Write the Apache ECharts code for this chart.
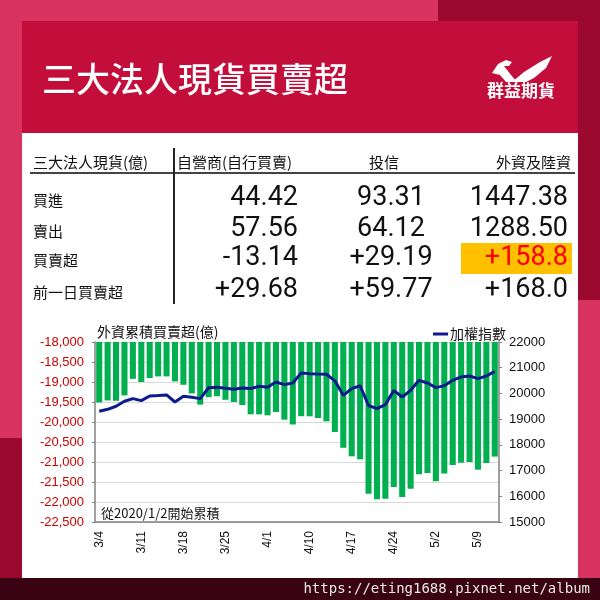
<!DOCTYPE html>
<html>
<head>
<meta charset="utf-8">
<script src="https://cdn.jsdelivr.net/npm/echarts@6/dist/echarts.min.js"></script>
<style>
html,body{margin:0;padding:0;background:#fff;}
#c{width:600px;height:600px;}
</style>
</head>
<body>
<div id="c"></div>
<script>
// ---- data ----
const categories = ['3/4','3/5','3/6','3/7','3/8','3/11','3/12','3/13','3/14','3/15',
  '3/18','3/19','3/20','3/21','3/22','3/25','3/26','3/27','3/28','3/29',
  '4/1','4/2','4/3','4/8','4/9','4/10','4/11','4/12','4/15','4/16',
  '4/17','4/18','4/19','4/22','4/23','4/24','4/25','4/26','4/29','4/30',
  '5/2','5/3','5/6','5/7','5/8','5/9','5/10','5/13'];
const foreignCum = [-19510,-19460,-19470,-19335,-18920,-19000,-18900,-18860,-18860,-18985,
  -19070,-19285,-19565,-19380,-19355,-19445,-19500,-19575,-19808,-19808,
  -19833,-19750,-19942,-20062,-19855,-19858,-19900,-19983,-20250,-20645,
  -20858,-20933,-21795,-21933,-21917,-21625,-21875,-21667,-21308,-21275,
  -21483,-21290,-21075,-21017,-21000,-21192,-21025,-20865];
const taiex = [19305,19383,19500,19694,19798,19720,19900,19915,19940,19667,
  19888,19850,19798,20220,20240,20200,20160,20214,20188,20277,
  20238,20444,20343,20405,20794,20770,20755,20744,20490,19927,
  20188,20300,19530,19410,19565,20115,19861,20121,20510,20405,
  20227,20304,20510,20640,20678,20577,20678,20860];

const titleText = '三大法人現貨買賣超';
const brandText = '群益期貨';
const tableHeaders = ['三大法人現貨(億)','自營商(自行買賣)','投信','外資及陸資'];
const rowLabels = ['買進','賣出','買賣超','前一日買賣超'];
const dealerVals = ['44.42','57.56','-13.14','+29.68'];
const trustVals = ['93.31','64.12','+29.19','+59.77'];
const foreignVals = ['1447.38','1288.50','+158.8','+168.0'];
const chartTitle = '外資累積買賣超(億)';
const seriesBarName = '外資累積買賣超';
const seriesLineName = '加權指數';
const noteText = '從2020/1/2開始累積';
const urlText = 'https://eting1688.pixnet.net/album';

// ---- styles ----
const CJK = "'Noto Sans CJK TC','Noto Sans CJK SC',sans-serif";
const NUM = "Roboto,'Noto Sans CJK TC',sans-serif";
const AX = "'Liberation Sans Narrow','Liberation Sans','Noto Sans CJK TC',sans-serif";

const g = [];
// backgrounds
g.push({type:'rect', z:0, shape:{x:0,y:0,width:600,height:600}, style:{fill:'#D93461'}});
g.push({type:'rect', z:0, shape:{x:438,y:0,width:162,height:300}, style:{fill:'#9B0A2E'}});
g.push({type:'rect', z:0, shape:{x:0,y:438,width:22,height:140}, style:{fill:'#9B0A2E'}});
g.push({type:'rect', z:0, shape:{x:0,y:578,width:600,height:22}, style:{fill:'#3A0313'}});
g.push({type:'rect', z:0, shape:{x:22,y:21,width:556,height:112}, style:{fill:'#C30D3A'}});
g.push({type:'rect', z:0, shape:{x:22,y:133,width:556,height:445}, style:{fill:'#FFFFFF'}});
// title
g.push({type:'text', z:5, style:{text:titleText, x:42, y:79, fill:'#fff', font:"500 34px "+CJK, textAlign:'left', textVerticalAlign:'middle'}});
// logo
g.push({type:'polygon', z:5, shape:{points:[[492,73],[498,64],[506,60],[512,62],[509,66],[504,66],[511,75],[517,82],[506,82],[500,75]]}, style:{fill:'#fff'}});
g.push({type:'polygon', z:5, shape:{points:[[512,82],[524,72],[540,62],[552,56],[546,68],[534,78],[526,82]]}, style:{fill:'#fff'}});
g.push({type:'text', z:5, style:{text:brandText, x:521, y:91, fill:'#fff', font:"bold 17px "+CJK, textAlign:'center', textVerticalAlign:'middle'}});
// table
g.push({type:'text', z:5, style:{text:tableHeaders[0], x:33, y:162, fill:'#111', font:"15px "+CJK, textAlign:'left', textVerticalAlign:'middle'}});
g.push({type:'text', z:5, style:{text:tableHeaders[1], x:177, y:162, fill:'#111', font:"15px "+CJK, textAlign:'left', textVerticalAlign:'middle'}});
g.push({type:'text', z:5, style:{text:tableHeaders[2], x:384, y:162, fill:'#111', font:"15px "+CJK, textAlign:'center', textVerticalAlign:'middle'}});
g.push({type:'text', z:5, style:{text:tableHeaders[3], x:571, y:162, fill:'#111', font:"15px "+CJK, textAlign:'right', textVerticalAlign:'middle'}});
g.push({type:'line', z:5, shape:{x1:30,y1:173,x2:575,y2:173}, style:{stroke:'#444', lineWidth:2}});
g.push({type:'line', z:5, shape:{x1:174,y1:148,x2:174,y2:304}, style:{stroke:'#222', lineWidth:2}});
g.push({type:'rect', z:4, shape:{x:461,y:243,width:111,height:31}, style:{fill:'#FFC000'}});
const rowY = [198, 229, 258, 290];
for (let i = 0; i < rowLabels.length; i++) {
  g.push({type:'text', z:5, style:{text:rowLabels[i], x:33, y:rowY[i]+2, fill:'#111', font:"15px "+CJK, textAlign:'left', textVerticalAlign:'middle'}});
  g.push({type:'text', z:5, style:{text:dealerVals[i], x:298, y:rowY[i], fill:'#111', font:"27px "+NUM, textAlign:'right', textVerticalAlign:'middle'}});
  g.push({type:'text', z:5, style:{text:trustVals[i], x:391, y:rowY[i], fill:'#111', font:"27px "+NUM, textAlign:'center', textVerticalAlign:'middle'}});
  g.push({type:'text', z:5, style:{text:foreignVals[i], x:568, y:rowY[i], fill:(i===2?'#FF0000':'#111'), font:"27px "+NUM, textAlign:'right', textVerticalAlign:'middle'}});
}
// chart title / note
g.push({type:'text', z:5, style:{text:chartTitle, x:97, y:332, fill:'#111', font:"14px "+CJK, textAlign:'left', textVerticalAlign:'middle'}});
g.push({type:'text', z:5, style:{text:noteText, x:101, y:513, fill:'#111', font:"13px "+CJK, textAlign:'left', textVerticalAlign:'middle'}});
// url
g.push({type:'text', z:5, style:{text:urlText, x:590, y:589, fill:'#E8E8E8', font:"14px 'DejaVu Sans Mono','Liberation Mono',monospace", textAlign:'right', textVerticalAlign:'middle'}});

const chart = echarts.init(document.getElementById('c'), null, {renderer:'canvas'});
chart.setOption({
  animation:false,
  graphic: g,
  legend: {
    data:[{name:seriesLineName, icon:'rect'}],
    left:428, top:322, itemWidth:15, itemHeight:3, itemGap:4,
    textStyle:{fontSize:14, fontFamily:CJK, color:'#111', padding:[0,0,0,-3]}
  },
  grid: {left:95, right:101, top:342, bottom:78, containLabel:false},
  xAxis: {
    type:'category', data:categories, boundaryGap:true,
    axisLine:{show:true, lineStyle:{color:'#808080', width:1.5}},
    axisTick:{show:false},
    axisLabel:{interval:4, rotate:90, fontSize:12, color:'#111', fontFamily:AX, margin:9}
  },
  yAxis: [
    {
      type:'value', min:-22500, max:-18000, interval:500, startValue:-18000,
      axisLine:{show:true, lineStyle:{color:'#808080', width:1.5}},
      axisTick:{show:true, length:3, lineStyle:{color:'#808080'}},
      splitLine:{show:true, lineStyle:{color:'#D9D9D9', width:1}},
      axisLabel:{color:'#CC0000', fontSize:13, fontFamily:AX, margin:11,
        formatter:function(v){return v.toLocaleString('en-US');}}
    },
    {
      type:'value', min:15000, max:22000, interval:1000, position:'right',
      axisLine:{show:true, lineStyle:{color:'#808080', width:1.5}},
      axisTick:{show:true, length:3, lineStyle:{color:'#808080'}},
      splitLine:{show:false},
      axisLabel:{color:'#111', fontSize:13, fontFamily:AX, margin:10,
        formatter:function(v){return String(v);}}
    }
  ],
  series: [
    {
      name:seriesBarName, type:'bar', yAxisIndex:0, data:foreignCum,
      barCategoryGap:'28%', itemStyle:{color:'#00B050'}, clip:true, z:2
    },
    {
      name:seriesLineName, type:'line', yAxisIndex:1, data:taiex,
      showSymbol:false, symbol:'none', lineStyle:{color:'#0D1A8C', width:3}, itemStyle:{color:'#0D1A8C'}, z:3
    }
  ]
});
</script>
</body>
</html>
